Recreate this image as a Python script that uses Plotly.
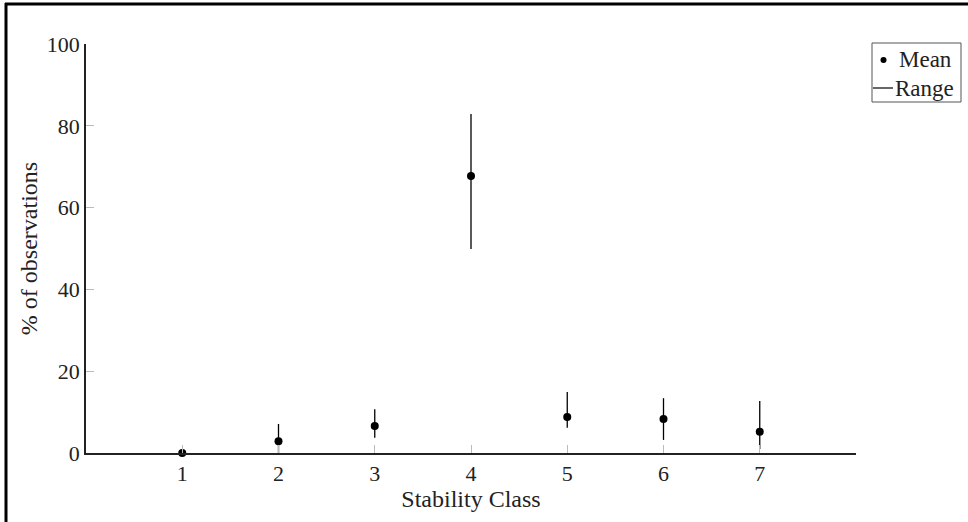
import plotly.graph_objects as go

# Stability classes and percentage of observations per class
classes = [1, 2, 3, 4, 5, 6, 7]
mean_pct = [0.0, 2.9, 6.6, 67.7, 8.8, 8.3, 5.2]
range_low = [0.0, 0.0, 3.7, 49.9, 6.2, 3.2, 1.0]
range_high = [1.0, 7.1, 10.7, 82.9, 14.9, 13.4, 12.7]
x_tickvals = [1, 2, 3, 4, 5, 6, 7, 8]
x_ticktext = ["1", "2", "3", "4", "5", "6", "7", ""]
y_tickvals = [0, 20, 40, 60, 80, 100]
legend_labels = ["Mean", "Range"]

FONT = "Liberation Serif"
TXT = "#222"

# plot-area geometry in pixels
L, R, T, B = 86, 856, 44, 453
W, H = R - L, B - T


def px(x):
    return (x - L) / W


def py(y):
    return (B - y) / H


# Vertical range segments, separated by gaps
rx, ry = [], []
for c, lo, hi in zip(classes, range_low, range_high):
    rx += [c, c, None]
    ry += [lo, hi, None]

fig = go.Figure()
fig.add_trace(go.Scatter(
    x=rx, y=ry, mode="lines", name="Range",
    line=dict(color="black", width=1.3),
    cliponaxis=False, showlegend=False,
))
fig.add_trace(go.Scatter(
    x=classes, y=mean_pct, mode="markers", name="Mean",
    marker=dict(color="black", size=8),
    cliponaxis=False, showlegend=False,
))

shapes = [
    # frame edges along the top and left of the figure
    dict(type="line", xref="paper", yref="paper",
         x0=px(5), x1=px(968), y0=py(4), y1=py(4),
         line=dict(color="black", width=3)),
    dict(type="line", xref="paper", yref="paper",
         x0=px(6), x1=px(6), y0=py(3), y1=py(522),
         line=dict(color="black", width=3)),
    # legend box
    dict(type="rect", xref="paper", yref="paper",
         x0=px(872), x1=px(961), y0=py(43), y1=py(102),
         line=dict(color="#555", width=1), fillcolor="white"),
    # legend symbols: dot for the mean, line for the range
    dict(type="circle", xref="paper", yref="paper",
         x0=px(880.5), x1=px(886.5), y0=py(57), y1=py(63),
         line=dict(color="black", width=0), fillcolor="black"),
    dict(type="line", xref="paper", yref="paper",
         x0=px(873), x1=px(893), y0=py(88), y1=py(88),
         line=dict(color="black", width=1.2)),
]

annotations = [
    dict(text=legend_labels[0], xref="paper", yref="paper",
         x=px(897), y=py(60), xanchor="left", yanchor="middle",
         showarrow=False, font=dict(family=FONT, size=23, color=TXT)),
    dict(text=legend_labels[1], xref="paper", yref="paper",
         x=px(893), y=py(88), xanchor="left", yanchor="middle",
         showarrow=False, font=dict(family=FONT, size=23, color=TXT)),
]

fig.update_layout(
    width=968, height=522,
    margin=dict(l=L, r=968 - R, t=T, b=522 - B, autoexpand=False),
    paper_bgcolor="white", plot_bgcolor="white",
    font=dict(family=FONT, size=22, color=TXT),
    showlegend=False,
    xaxis=dict(
        range=[0, 8], tickvals=x_tickvals, ticktext=x_ticktext,
        showline=True, linecolor=TXT, linewidth=1.5,
        ticks="inside", ticklen=8, tickcolor="#bbb", tickwidth=1,
        showgrid=False, zeroline=False,
        title=dict(text="Stability Class", standoff=4,
                   font=dict(family=FONT, size=24, color=TXT)),
        tickfont=dict(family=FONT, size=22, color=TXT),
    ),
    yaxis=dict(
        range=[0, 100], tickvals=y_tickvals,
        showline=True, linecolor=TXT, linewidth=1.5,
        ticks="inside", ticklen=8, tickcolor="#bbb", tickwidth=1,
        showgrid=False, zeroline=False,
        title=dict(text="% of observations", standoff=2,
                   font=dict(family=FONT, size=24, color=TXT)),
        tickfont=dict(family=FONT, size=22, color=TXT),
    ),
    shapes=shapes,
    annotations=annotations,
)

fig.write_html("out.html")
